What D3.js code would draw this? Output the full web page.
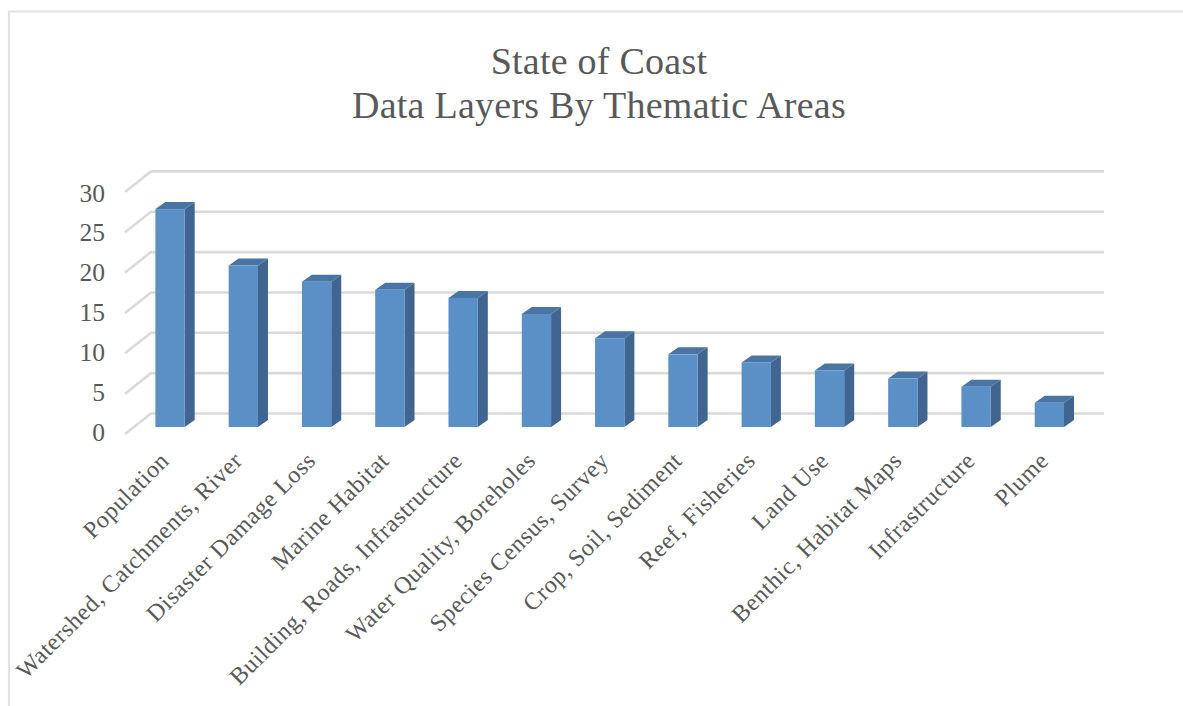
<!DOCTYPE html>
<html><head><meta charset="utf-8">
<script src="https://cdn.jsdelivr.net/npm/d3@7/dist/d3.min.js"></script>
<style>html,body{margin:0;padding:0;background:#fff}svg{display:block}text{font-family:"Liberation Serif",serif;fill:#595959}</style>
</head><body><div id="chart"></div>
<script>
// Layers per thematic area, sorted from largest to smallest
const categories = ["Population","Watershed, Catchments, River","Disaster Damage Loss","Marine Habitat","Building, Roads, Infrastructure","Water Quality, Boreholes","Species Census, Survey","Crop, Soil, Sediment","Reef, Fisheries","Land Use","Benthic, Habitat Maps","Infrastructure","Plume"];
const layerCounts = [27,20,18,17,16,14,11,9,8,7,6,5,3];
const yTicks = [0,5,10,15,20,25,30];
const titleLines = ["State of Coast","Data Layers By Thematic Areas"];

const W = 1183, H = 706;
const svg = d3.select("#chart").append("svg").attr("width",W).attr("height",H);

// Oblique projection: the bars sit midway through the depth of the plot box
const depth = {dx:26, dy:-20.5};
const barDepth = {dx:10, dy:-7};
const y = d3.scaleLinear().domain([0,30]).range([427,184.9]);
const x = d3.scaleBand().domain(categories).range([133.4,1086]).paddingInner(0.6).paddingOuter(0.3);
const floorFront = 434, wallLeft = 125, wallRight = 1104;
const yFront = v => y(v) + (floorFront-427);
const yLabel = d3.scaleLinear().domain([0,30]).range([441,201.5]);

// Chart frame: open on the right-hand side
svg.append("path").attr("d",`M9,${H}V11.5H${W}`).attr("fill","none").attr("stroke","#e2e2e2").attr("stroke-width",2.2);

// Title
svg.append("text").attr("text-anchor","middle").attr("font-size",38).attr("letter-spacing",0.25)
  .selectAll("tspan").data(titleLines).join("tspan")
  .attr("x",599).attr("y",(d,i)=>74+i*43.5).text(d=>d);

// Gridlines on the back wall and the receding side wall
const grid = svg.append("g");
yTicks.forEach(t=>{
  const fy = yFront(t), by = fy+depth.dy, bx = wallLeft+depth.dx;
  grid.append("path").attr("d",`M${wallLeft},${fy}L${bx},${by}H${wallRight}`)
    .attr("fill","none").attr("stroke","#dadada").attr("stroke-width",2.6);
});

// Value labels to the left of the side wall
svg.append("g").selectAll("text").data(yTicks).join("text")
  .attr("x",105).attr("y",d=>yLabel(d)).attr("text-anchor","end").attr("font-size",25.5).text(d=>d);

// Bars: side face, top face and front face
const bars = svg.append("g").selectAll("g").data(layerCounts).join("g");
const left = (d,i)=>x(categories[i]);
const right = (d,i)=>left(d,i)+x.bandwidth();
bars.append("path").attr("fill","#3f6590").attr("d",(d,i)=>{
  const r=right(d,i);
  return `M${r},${y(d)}l${barDepth.dx},${barDepth.dy}V${y(0)+barDepth.dy}l${-barDepth.dx},${-barDepth.dy}Z`;
});
bars.append("path").attr("fill","#4a74a3").attr("d",(d,i)=>{
  const l=left(d,i), r=right(d,i);
  return `M${l},${y(d)}l${barDepth.dx},${barDepth.dy}H${r+barDepth.dx}L${r},${y(d)}Z`;
});
bars.append("rect").attr("fill","#5b90c6")
  .attr("x",left).attr("width",x.bandwidth()).attr("y",d=>y(d)).attr("height",d=>y(0)-y(d));

// Category labels rotated 45 degrees, ending under each bar
svg.append("g").selectAll("text").data(categories).join("text")
  .attr("font-size",24).attr("letter-spacing",0.6).attr("text-anchor","end")
  .attr("transform",d=>`translate(${x(d)+x.bandwidth()/2+0.5},${462}) rotate(-45)`)
  .text(d=>d);
</script></body></html>
